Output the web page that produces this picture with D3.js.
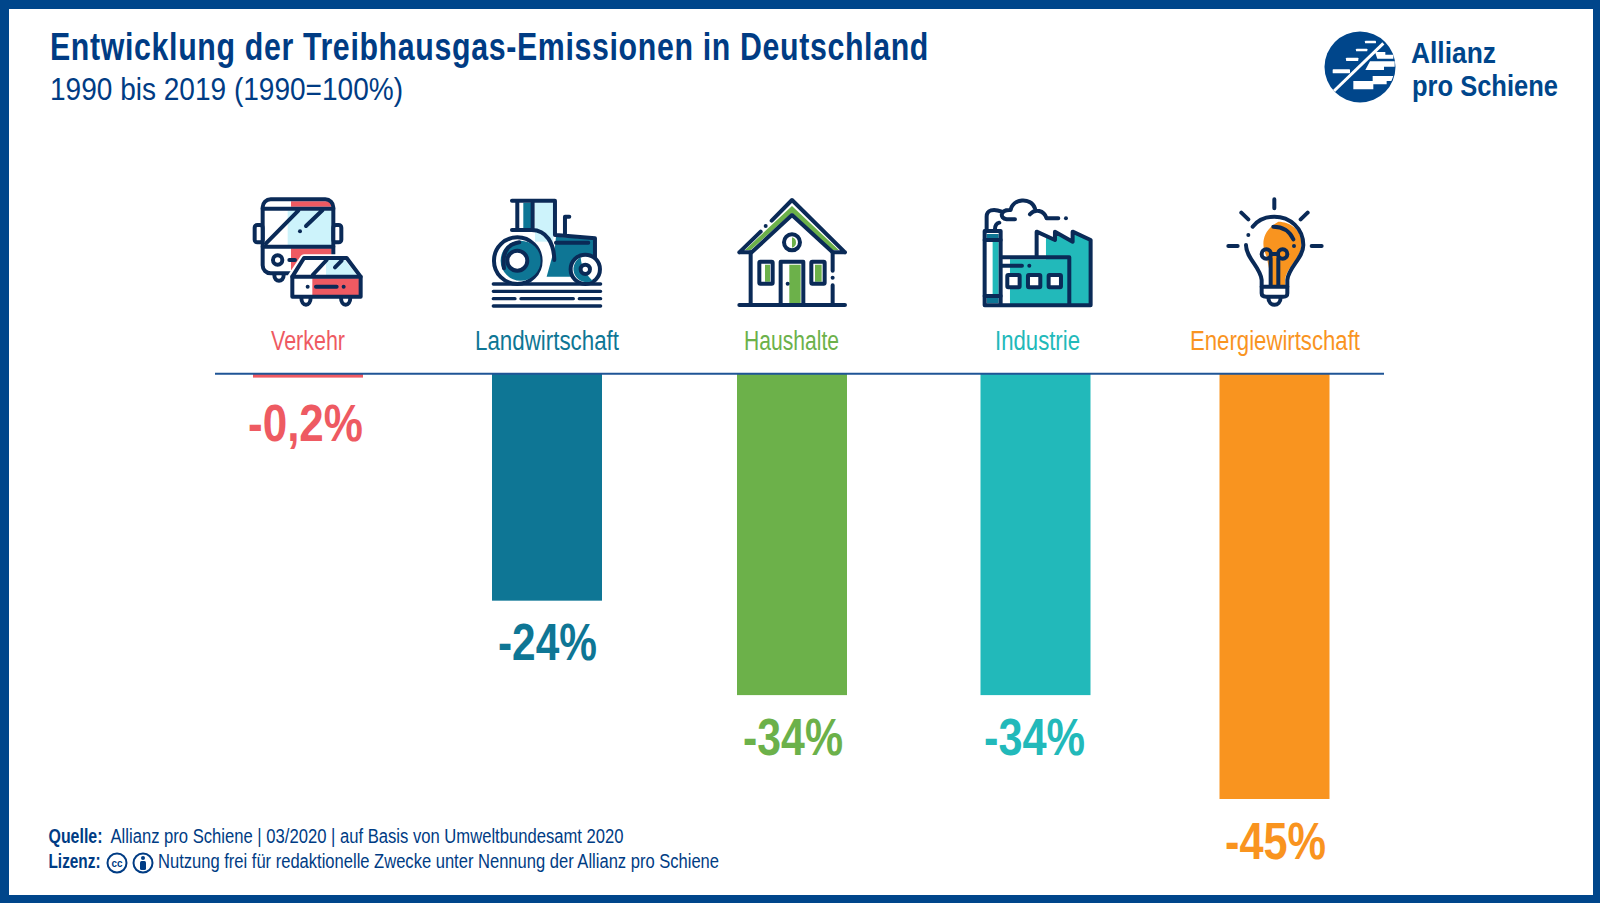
<!DOCTYPE html>
<html lang="de"><head><meta charset="utf-8">
<script src="https://cdn.jsdelivr.net/npm/d3@7/dist/d3.min.js"></script>
<style>
html,body{margin:0;padding:0;background:#fff}
svg{display:block}
text{font-family:"Liberation Sans Narrow","Liberation Sans",Arial,sans-serif}
.ic path,.ic circle,.ic rect,.ic line{fill:none;stroke:#0a2a57;stroke-width:12;stroke-linecap:round;stroke-linejoin:round}
.ic .f{stroke:none}
.ic .w{fill:#fff}
.ic .d{fill:#0a2a57;stroke:none}
</style></head><body>
<svg id="c" width="1600" height="903" viewBox="0 0 1600 903"></svg>
<script>
const categories = ["Verkehr","Landwirtschaft","Haushalte","Industrie","Energiewirtschaft"];
const values = [-0.2,-24,-34,-34,-45];
const valueLabels = ["-0,2%","-24%","-34%","-34%","-45%"];
const colors = ["#ee5a62","#0e7695","#6cb14a","#22b9ba","#f9941f"];
const titleText = "Entwicklung der Treibhausgas-Emissionen in Deutschland";
const subtitleText = "1990 bis 2019 (1990=100%)";
const NAVY="#00468b";

const svg=d3.select("#c");
const x=d3.scaleOrdinal().domain(categories).range([308,547,792,1035.5,1274.5]);
const y=d3.scaleLinear().domain([0,-45]).range([374,799]);
const barW=110;

function t(sel,o){
  const e=sel.append("text").attr("x",o.x).attr("y",o.y).attr("font-size",o.s)
    .attr("font-weight",o.b?"700":"400").attr("fill",o.c||"#003c84").text(o.t);
  if(o.ls) e.attr("letter-spacing",o.ls);
  if(o.w) e.attr("textLength",o.w).attr("lengthAdjust","spacingAndGlyphs");
  return e;
}
// frame
svg.append("rect").attr("width",1600).attr("height",903).attr("fill",NAVY);
svg.append("rect").attr("x",9).attr("y",9).attr("width",1584).attr("height",886).attr("fill","#fff");

// header
t(svg,{x:50,y:59.5,s:38,b:1,t:titleText,w:879,ls:.8});
t(svg,{x:50,y:99.5,s:32,t:subtitleText,w:353});

// bars
svg.append("g").selectAll("rect").data(categories).join("rect")
  .attr("x",d=>x(d)-barW/2).attr("y",y(0)).attr("width",barW)
  .attr("height",(d,i)=>Math.max(3.6,y(values[i])-y(0))).attr("fill",(d,i)=>colors[i]);
// baseline
svg.append("line").attr("x1",215).attr("x2",1384).attr("y1",y(0)-.3).attr("y2",y(0)-.3).attr("stroke","#1f5596").attr("stroke-width",2);

// category labels
const catW=[74,144,95,85,170], catX=[271,475,744,995,1190];
categories.forEach((d,i)=>t(svg,{x:catX[i],y:350,s:27,c:colors[i],t:d,w:catW[i]}));

// value labels
const valX=[248,498,743,984,1225], valW=[115,99,100,101,101];
values.forEach((v,i)=>t(svg,{x:valX[i],y:Math.max(441,y(v)+59.5),s:51,b:1,c:colors[i],t:valueLabels[i],w:valW[i]}));

// footer
t(svg,{x:48.5,y:843,s:19.5,b:1,t:"Quelle:",w:54});
t(svg,{x:110.5,y:843,s:19.5,t:"Allianz pro Schiene | 03/2020 | auf Basis von Umweltbundesamt 2020",w:513});
t(svg,{x:48.5,y:868,s:19.5,b:1,t:"Lizenz:",w:52});
t(svg,{x:158,y:868,s:19.5,t:"Nutzung frei für redaktionelle Zwecke unter Nennung der Allianz pro Schiene",w:561});
const lic=svg.append("g");
lic.append("circle").attr("cx",117).attr("cy",863).attr("r",9.5).attr("fill","#fff").attr("stroke","#003c84").attr("stroke-width",2);
lic.append("circle").attr("cx",143).attr("cy",863).attr("r",9.5).attr("fill","#fff").attr("stroke","#003c84").attr("stroke-width",2);
t(lic,{x:111.5,y:867,s:11,b:1,t:"cc",w:11});
lic.append("circle").attr("cx",143).attr("cy",858).attr("r",2).attr("fill","#003c84");
lic.append("rect").attr("x",140).attr("y",861).attr("width",6).attr("height",9).attr("rx",1.5).attr("fill","#003c84");

// logo
const logo=svg.append("g");
logo.append("circle").attr("cx",1360).attr("cy",67).attr("r",35.5).attr("fill",NAVY);
logo.append("g").attr("transform","translate(1320,26) scale(.3333)").html(`
<g fill="#fff">
<rect x="135" y="44" width="33" height="8" rx="2"/>
<rect x="108" y="68" width="34" height="8" rx="2"/>
<rect x="78" y="95" width="37" height="10" rx="2"/>
<rect x="38" y="130" width="52" height="12" rx="2"/>
<path d="M165 78H196V86H220V98H172Z M150 106H224V122H192V132H136Z M100 165H158V150H220L214 165H200V175H160V190H100Z"/>
<path d="M42 195L190 52" stroke="#fff" stroke-width="9" fill="none"/>
</g>`);
t(svg,{x:1411,y:62.5,s:30,b:1,c:NAVY,t:"Allianz",w:85});
t(svg,{x:1412,y:96,s:30,b:1,c:NAVY,t:"pro Schiene",w:146});

// icons (drawn in 3x crop units)
const R="#ee5a62",LB="#cdf3fb",T="#0e7695",G="#6cb14a",TQ="#22b9ba",O="#f9941f";
const ic1=svg.append("g").attr("class","ic").attr("transform","translate(230,180) scale(.3333)");
ic1.html(`
<!-- bus -->
<path class="f" style="fill:${R}" d="M183 64H303V80H183ZM183 205H305V270H183Z"/>
<path class="f" style="fill:${LB}" d="M173 92H305V195H173Z"/>
<rect x="98" y="58" width="212" height="222" rx="24"/>
<path d="M98 86H310M98 200H310M108 190L205 92M228 138L278 90"/>
<circle class="d" cx="210" cy="154" r="6"/>
<rect class="w" x="74" y="135" width="24" height="52" rx="8"/><rect class="w" x="310" y="135" width="24" height="52" rx="8"/>
<circle cx="143" cy="240" r="14"/><path d="M178 240H195"/>
<path d="M133 285C133 308 161 308 161 285"/>
<!-- car -->
<path style="fill:#fff;stroke:#fff;stroke-width:24" d="M185 290L222 235H350L392 290V350H185Z"/>
<path class="f" style="fill:${R}" d="M247 295H387V345H247Z"/>
<path class="f" style="fill:${LB}" d="M288 240H345L380 285H288Z"/>
<path d="M187 290L222 234H350L392 290V350H187Z"/>
<path d="M187 290H392M248 285L290 240M315 262L335 242M258 320H320"/>
<circle class="d" cx="233" cy="320" r="6"/><circle class="d" cx="341" cy="320" r="6"/>
<path d="M214 352C214 382 242 382 242 352M333 352C333 382 361 382 361 352"/>
<!-- tractor -->
<path class="f" style="fill:${T}" d="M880 68H908V150H880Z"/>
<path class="f" style="fill:${LB}" d="M915 68H970V185H915Z"/>
<path class="f" style="fill:${T}" d="M978 170L1095 178V235L1040 250L1022 290H950L975 200Z"/>
<path d="M846 62H975V165M862 62V148M908 68V150M978 165L1095 175V240M1005 165V110H1018M978 188H1075"/>
<circle class="w" cx="862" cy="242" r="70"/>
<circle class="f" style="fill:${T}" cx="872" cy="242" r="60"/>
<path d="M846 150H905C950 150 972 190 973 240"/>
<path d="M822 265C815 215 835 192 868 187"/>
<circle class="w" cx="862" cy="242" r="30"/>
<circle class="w" cx="1066" cy="268" r="44"/>
<path class="f" style="fill:${T}" d="M1052 232A38 38 0 0 0 1088 302C1075 290 1055 270 1052 232Z"/>
<circle class="w" cx="1066" cy="268" r="14"/>
<path style="stroke-width:10" d="M790 312H1112M790 334H1112M790 356H855M873 356H1030M1048 356H1112M790 378H1112"/>
`);
const ic2=svg.append("g").attr("class","ic").attr("transform","translate(710,180) scale(.3333)");
ic2.html(`
<!-- house -->
<path class="f" style="fill:${G}" d="M246 78L386 210H365L246 98L122 210H105Z"/>
<path class="f" style="fill:${G}" d="M238 254H272V370H238ZM165 254H180V305H165ZM315 254H335V305H315ZM246 172A16 16 0 0 1 246 203Z"/>
<path d="M88 217L152 155M185 122L246 60L405 217M88 217H125L246 105L368 217H405"/>
<circle class="d" cx="167" cy="138" r="6"/><circle class="d" cx="368" cy="293" r="6"/><circle class="d" cx="233" cy="311" r="6"/>
<path d="M122 217V375M368 217V272M368 316V375M88 375H405"/>
<circle cx="246" cy="187" r="24"/>
<rect x="148" y="245" width="40" height="66" rx="3"/><rect x="304" y="245" width="40" height="66" rx="3"/>
<path d="M212 375V245H280V375"/>
<!-- factory -->
<path class="f" style="fill:${TQ}" d="M1008 170L1035 180V158L1088 186V158L1140 182V372H1008Z"/>
<path class="f" style="fill:${TQ}" d="M900 238H1078V372H900ZM848 180H866V350H848Z"/>
<path class="f" style="fill:${T}" d="M830 162H866V178H830ZM830 352H866V370H830Z"/>
<path d="M980 228V155L1035 180V155L1088 185V155L1142 180V376H824V153H872V376M1078 376V232H874"/>
<path d="M824 180H872M824 348H872"/>
<path d="M876 257H936"/><circle class="d" cx="958" cy="257" r="6"/>
<rect class="w" x="892" y="285" width="37" height="37" rx="3"/><rect class="w" x="954" y="285" width="37" height="37" rx="3"/><rect class="w" x="1016" y="285" width="37" height="37" rx="3"/>
<path d="M830 150V110C830 90 850 85 875 95M915 118H890C868 115 870 88 902 90C908 56 962 50 975 85M960 103C975 85 1002 90 1010 115H1045M855 148C855 135 860 130 868 128"/>
<circle class="d" cx="1068" cy="115" r="6"/>
`);
const ic3=svg.append("g").attr("class","ic").attr("transform","translate(1170,180) scale(.3333)");
ic3.html(`
<path class="f" style="fill:${O}" d="M325 125C280 150 270 190 290 230L308 322H345V300C350 260 395 235 395 190C395 150 360 125 325 125Z"/>
<path d="M313 58V85M214 98L235 118M413 98L392 118M175 198H203M425 198H455"/>
<path d="M228 195C228 235 272 262 275 300V340C275 348 280 350 288 350H340C348 350 352 348 352 340V300C355 262 400 235 400 195C400 145 360 110 313 110C285 110 262 122 248 140"/>
<path d="M275 320H352M295 352C295 382 332 382 332 352M310 140C340 140 360 155 370 178"/>
<circle cx="289" cy="222" r="14"/><circle cx="338" cy="222" r="14"/>
<path d="M303 222H324M302 235V318M325 235V318"/>
<circle class="d" cx="372" cy="198" r="6"/><circle class="d" cx="235" cy="165" r="6"/>
`);
</script></body></html>
